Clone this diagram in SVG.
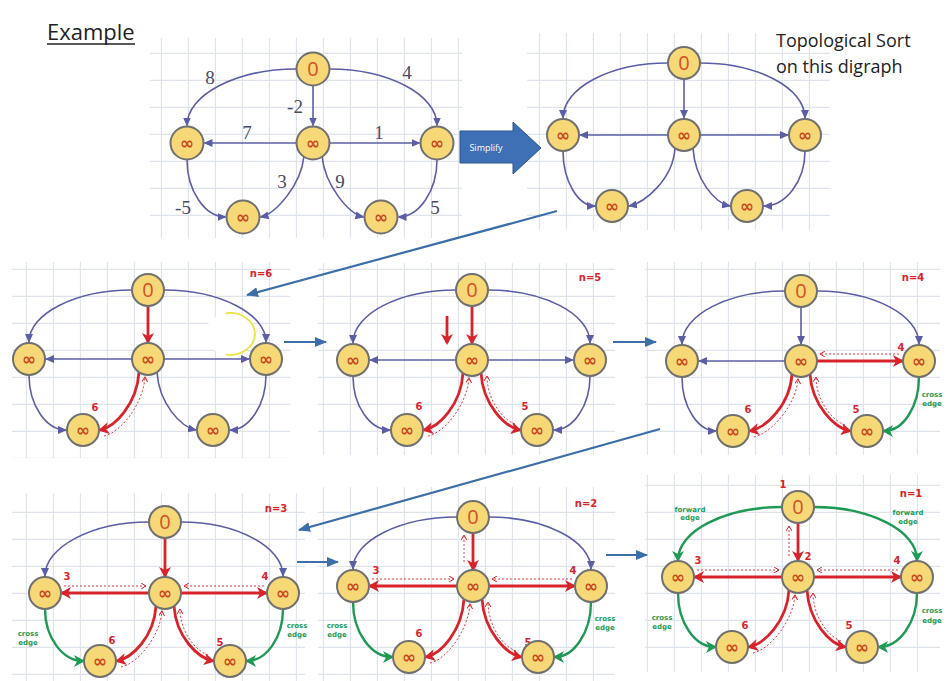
<svg xmlns="http://www.w3.org/2000/svg" width="948" height="681" viewBox="0 0 948 681">
<style>
.nd circle{fill:#f6d876;stroke:#707070;stroke-width:2}
.z{font-family:"Open Sans","Liberation Sans",sans-serif;font-size:20px;fill:#d4502a;text-anchor:middle}
.inf{font-family:"DejaVu Sans",sans-serif;font-size:17px;font-weight:bold;fill:#c8461c;text-anchor:middle}
.ep{fill:none;stroke:#5b5ea6;stroke-width:1.6;marker-end:url(#mP)}
.er{fill:none;stroke:#d8232a;stroke-width:2.8;marker-end:url(#mR)}
.ed{fill:none;stroke:#d8232a;stroke-width:0.9;stroke-dasharray:2 2;marker-end:url(#mRs)}
.eg{fill:none;stroke:#1f9a55;stroke-width:2.4;marker-end:url(#mG)}
.bl{fill:none;stroke:#3c6eaa;stroke-width:2.2;marker-end:url(#mB)}
.hw{font-family:"DejaVu Sans",sans-serif;font-weight:bold;fill:#d8232a;font-size:10px;text-anchor:middle}
.gw{font-family:"DejaVu Sans",sans-serif;font-weight:bold;fill:#1f9a55;font-size:7px;text-anchor:middle}
.wt{font-family:"Liberation Serif",serif;font-size:19px;fill:#4a4a66;text-anchor:middle}
.grid{fill:url(#grid)}
</style>
<defs>
<pattern id="grid" width="27" height="27" patternUnits="userSpaceOnUse">
<path d="M26.5 0 L26.5 27 M0 26.5 L27 26.5" stroke="#dfe3ec" stroke-width="1.3" fill="none"/>
</pattern>
<marker id="mP" markerUnits="userSpaceOnUse" markerWidth="9" markerHeight="8" refX="8" refY="4" orient="auto"><path d="M0,0 L9,4 L0,8 z" fill="#5b5ea6"/></marker>
<marker id="mR" markerUnits="userSpaceOnUse" markerWidth="12" markerHeight="12" refX="9" refY="6" orient="auto"><path d="M0,0 L11,6 L0,12 L3,6 z" fill="#d8232a"/></marker>
<marker id="mRs" markerUnits="userSpaceOnUse" markerWidth="6" markerHeight="6" refX="5" refY="3" orient="auto"><path d="M0,0 L5,3 L0,6" fill="none" stroke="#d8232a" stroke-width="1"/></marker>
<marker id="mG" markerUnits="userSpaceOnUse" markerWidth="12" markerHeight="12" refX="9" refY="6" orient="auto"><path d="M0,0 L11,6 L0,12 L3,6 z" fill="#1f9a55"/></marker>
<marker id="mB" markerUnits="userSpaceOnUse" markerWidth="12" markerHeight="10" refX="11" refY="5" orient="auto"><path d="M0,0 L12,5 L0,10 z" fill="#3c6eaa"/></marker>
</defs>
<rect width="948" height="681" fill="#ffffff"/>

<!-- grids -->
<rect class="grid" x="150" y="38" width="312" height="200"/>
<rect class="grid" x="527" y="33" width="303" height="197"/>
<rect class="grid" x="12" y="262" width="278" height="196"/>
<rect class="grid" x="318" y="263" width="297" height="192"/>
<rect class="grid" x="645" y="262" width="295" height="193"/>
<rect class="grid" x="12" y="493" width="293" height="188"/>
<rect class="grid" x="318" y="487" width="297" height="194"/>
<rect class="grid" x="645" y="475" width="295" height="197"/>

<!-- titles -->
<text x="47" y="40" font-family="'Open Sans','Liberation Sans',sans-serif" font-size="22" fill="#222">Example</text>
<line x1="47" y1="44" x2="135" y2="44" stroke="#222" stroke-width="1.3"/>
<text font-family="'Open Sans','Liberation Sans',sans-serif" font-size="18" fill="#222"><tspan x="776" y="47">Topological Sort</tspan><tspan x="776" y="73">on this digraph</tspan></text>

<!-- Simplify arrow -->
<g id="simplify">
<polygon points="460,131 513,131 513,122 541,148 513,174 513,163 460,163" fill="#3d70b4" stroke="#2c5590" stroke-width="1"/>
<text x="486" y="151" font-family="'Open Sans','Liberation Sans',sans-serif" font-size="9" fill="#ffffff" text-anchor="middle">Simplify</text>
</g>

<!-- yellow highlight in panel 1 -->
<ellipse cx="230" cy="334" rx="25" ry="21" fill="#ffffff"/>
<path d="M225.7,313.3 A25,21 0 1 1 225.7,354.7" fill="none" stroke="#ece24a" stroke-width="1.8"/>

<!-- connectors -->
<g id="connectors">
<!-- Graph A -->
<g id="a-edges">
<path class="ep" d="M296.5,69 C236,69 187,95 187,125.5"/>
<path class="ep" d="M329.5,69 C389,69 437,95 437,125.5"/>
<path class="ep" d="M313,85.5 L313,125.5"/>
<path class="ep" d="M296.5,143 L204.5,143"/>
<path class="ep" d="M329.5,143 L419.5,143"/>
<path class="ep" d="M187,159.5 C187,191 205,217 225.5,217"/>
<path class="ep" d="M437,159.5 C437,191 419,217 398.5,217"/>
<path class="ep" d="M304,156 C301,186 275,214 260.5,217"/>
<path class="ep" d="M322,156 C325,186 349,214 363.5,217"/>
<text class="wt" x="210" y="84">8</text>
<text class="wt" x="407" y="79">4</text>
<text class="wt" x="295" y="113">-2</text>
<text class="wt" x="247" y="139">7</text>
<text class="wt" x="379" y="139">1</text>
<text class="wt" x="282" y="188">3</text>
<text class="wt" x="340" y="188">9</text>
<text class="wt" x="183" y="214">-5</text>
<text class="wt" x="435" y="214">5</text>
</g>
<!-- Graph B -->
<g id="b-edges">
<path class="ep" d="M668,63 C610,63 563,88 563,118"/>
<path class="ep" d="M700,63 C758,63 805,88 805,118"/>
<path class="ep" d="M684,79 L684,118"/>
<path class="ep" d="M668,135 L580,135"/>
<path class="ep" d="M700,135 L788,135"/>
<path class="ep" d="M563,151 C563,181 578,206 595,206"/>
<path class="ep" d="M805,151 C805,181 786,206 764,206"/>
<path class="ep" d="M675,148 C673,180 644,203 629,206"/>
<path class="ep" d="M693,148 C695,180 715,203 730,206"/>
</g>
<!-- Panel 1 -->
<g id="p1-edges">
<path class="ep" d="M132,290 C75,290 29,314 29,342"/>
<path class="ep" d="M164,290 C220,290 266,314 266,342"/>
<path class="er" d="M148,306 L148,342"/>
<path class="ep" d="M132,359 L46,359"/>
<path class="ep" d="M164,359 L249,359"/>
<path class="ep" d="M29,375 C29,405 46,430 66,430"/>
<path class="ep" d="M266,375 C266,405 249,430 230,430"/>
<path class="er" d="M139,372 C137,404 115,427 100,430"/>
<path class="ed" d="M104,436 C120,433 143,405 145,377"/>
<path class="ep" d="M157,372 C159,404 181,427 196,430"/>
<text class="hw" x="261" y="277" font-size="11">n=6</text>
<text class="hw" x="95" y="411" font-size="11">6</text>
</g>
<!-- Panel 2 -->
<g id="p2-edges">
<path class="ep" d="M456,290 C399,290 353,314 353,343"/>
<path class="ep" d="M488,290 C544,290 590,314 590,343"/>
<path class="er" d="M472,306 L472,343"/>
<path class="er" d="M447,316 L447,343" stroke-width="2"/>
<path class="ep" d="M456,360 L370,360"/>
<path class="ep" d="M488,360 L573,360"/>
<path class="ep" d="M353,376 C353,406 370,430 390,430"/>
<path class="ep" d="M590,376 C590,406 573,430 554,430"/>
<path class="er" d="M463,373 C461,405 439,427 424,430"/>
<path class="ed" d="M428,436 C444,433 467,405 469,378"/>
<path class="er" d="M481,373 C483,405 505,427 520,430"/>
<path class="ed" d="M515,424 C503,420 487,400 487,376"/>
<text class="hw" x="590" y="281">n=5</text>
<text class="hw" x="419" y="410">6</text>
<text class="hw" x="525" y="410" font-size="9">5</text>
</g>
<!-- Panel 3 -->
<g id="p3-edges">
<path class="ep" d="M785,291 C728,291 682,315 682,344"/>
<path class="ep" d="M817,291 C873,291 919,315 919,344"/>
<path class="ep" d="M801,307 L801,344"/>
<path class="ep" d="M785,361 L699,361"/>
<path class="er" d="M817,361 L902,361"/>
<path class="ed" d="M899,354 L820,354"/>
<path class="ep" d="M682,377 C682,407 698,431 716,431"/>
<path class="eg" d="M919,377 C919,407 903,431 884,431"/>
<path class="er" d="M792,374 C790,406 765,428 750,431"/>
<path class="ed" d="M754,437 C770,434 796,406 798,379"/>
<path class="er" d="M810,374 C812,406 835,428 850,431"/>
<path class="ed" d="M845,425 C833,421 816,401 816,377"/>
<text class="hw" x="913" y="281">n=4</text>
<text class="hw" x="901" y="351" font-size="9">4</text>
<text class="hw" x="748" y="413">6</text>
<text class="hw" x="856" y="413" font-size="9">5</text>
<text class="gw" x="932" y="397">cross</text>
<text class="gw" x="932" y="406">edge</text>
</g>
<!-- Panel 4 -->
<g id="p4-edges">
<path class="ep" d="M149,522 C92,522 45,547 45,576"/>
<path class="ep" d="M181,522 C237,522 283,547 283,576"/>
<path class="er" d="M165,538 L165,576"/>
<path class="er" d="M149,593 L62,593"/>
<path class="ed" d="M64,586 L146,586"/>
<path class="er" d="M181,593 L266,593"/>
<path class="ed" d="M264,586 L184,586"/>
<path class="eg" d="M45,609 C45,638 63,661 83,661"/>
<path class="eg" d="M283,609 C283,638 266,661 247,661"/>
<path class="er" d="M156,606 C154,637 132,658 117,661"/>
<path class="ed" d="M121,667 C137,664 160,637 162,611"/>
<path class="er" d="M174,606 C176,637 198,658 213,661"/>
<path class="ed" d="M208,655 C196,651 180,632 180,609"/>
<text class="hw" x="276" y="512">n=3</text>
<text class="hw" x="67" y="580" font-size="9">3</text>
<text class="hw" x="265" y="580" font-size="9">4</text>
<text class="hw" x="112" y="644">6</text>
<text class="hw" x="220" y="646" font-size="9">5</text>
<text class="gw" x="28" y="636">cross</text>
<text class="gw" x="28" y="645">edge</text>
<text class="gw" x="297" y="628">cross</text>
<text class="gw" x="297" y="637">edge</text>
</g>
<!-- Panel 5 -->
<g id="p5-edges">
<path class="ep" d="M457,517 C400,517 353,541 353,569"/>
<path class="ep" d="M489,517 C545,517 591,541 591,569"/>
<path class="er" d="M473,533 L473,569"/>
<path class="ed" d="M464,562 L464,535"/>
<path class="er" d="M457,586 L370,586"/>
<path class="ed" d="M372,579 L454,579"/>
<path class="er" d="M489,586 L574,586"/>
<path class="ed" d="M572,579 L492,579"/>
<path class="eg" d="M353,602 C353,632 371,657 392,657"/>
<path class="eg" d="M591,602 C591,632 574,657 555,657"/>
<path class="er" d="M464,599 C462,631 441,654 426,657"/>
<path class="ed" d="M430,663 C446,660 468,631 470,604"/>
<path class="er" d="M482,599 C484,631 506,654 521,657"/>
<path class="ed" d="M516,651 C504,647 488,627 488,602"/>
<text class="hw" x="586" y="507" font-size="9">n=2</text>
<text class="hw" x="474" y="571" font-size="9">2</text>
<text class="hw" x="376" y="574" font-size="9">3</text>
<text class="hw" x="573" y="574" font-size="9">4</text>
<text class="hw" x="419" y="637">6</text>
<text class="hw" x="528" y="646" font-size="9">5</text>
<text class="gw" x="337" y="628">cross</text>
<text class="gw" x="337" y="637">edge</text>
<text class="gw" x="605" y="621">cross</text>
<text class="gw" x="605" y="630">edge</text>
</g>
<!-- Panel 6 -->
<g id="p6-edges">
<path class="eg" d="M782,507 C725,507 678,531 678,560"/>
<path class="eg" d="M814,507 C871,507 917,531 917,560"/>
<path class="er" d="M798,523 L798,560"/>
<path class="ed" d="M789,556 L789,526"/>
<path class="er" d="M782,577 L695,577"/>
<path class="ed" d="M697,570 L779,570"/>
<path class="er" d="M814,577 L900,577"/>
<path class="ed" d="M898,570 L817,570"/>
<path class="eg" d="M678,593 C678,623 695,647 715,647"/>
<path class="eg" d="M917,593 C917,623 899,647 879,647"/>
<path class="er" d="M789,590 C787,622 764,644 749,647"/>
<path class="ed" d="M753,653 C769,650 793,622 795,595"/>
<path class="er" d="M807,590 C809,622 830,644 845,647"/>
<path class="ed" d="M841,641 C829,637 813,617 813,593"/>
<text class="hw" x="911" y="497" font-size="9">n=1</text>
<text class="hw" x="783" y="488" font-size="9">1</text>
<text class="hw" x="808" y="560" font-size="9">2</text>
<text class="hw" x="698" y="564" font-size="9">3</text>
<text class="hw" x="897" y="564" font-size="9">4</text>
<text class="hw" x="745" y="629">6</text>
<text class="hw" x="849" y="629" font-size="9">5</text>
<text class="gw" x="690" y="512">forward</text>
<text class="gw" x="690" y="520">edge</text>
<text class="gw" x="908" y="515">forward</text>
<text class="gw" x="908" y="524">edge</text>
<text class="gw" x="662" y="620">cross</text>
<text class="gw" x="662" y="629">edge</text>
<text class="gw" x="932" y="613">cross</text>
<text class="gw" x="932" y="623">edge</text>
</g>
<!-- blue flow arrows -->
<g id="flow">
<path class="bl" d="M557,211 L247,295"/>
<path class="bl" d="M284,342 L326,342"/>
<path class="bl" d="M613,342 L656,342"/>
<path class="bl" d="M660,429 L299,530"/>
<path class="bl" d="M297,562 L338,562"/>
<path class="bl" d="M606,555 L647,555"/>
</g>
</g>

<!-- nodes: Graph A -->
<g id="a-t" class="nd"><circle cx="313" cy="69" r="16.5"/><text class="z" x="313" y="76">0</text></g>
<g id="a-l" class="nd"><circle cx="187" cy="143" r="16.5"/><text class="inf" x="187" y="149">∞</text></g>
<g id="a-c" class="nd"><circle cx="313" cy="143" r="16.5"/><text class="inf" x="313" y="149">∞</text></g>
<g id="a-r" class="nd"><circle cx="437" cy="143" r="16.5"/><text class="inf" x="437" y="149">∞</text></g>
<g id="a-bl" class="nd"><circle cx="243" cy="217" r="16.5"/><text class="inf" x="243" y="223">∞</text></g>
<g id="a-br" class="nd"><circle cx="381" cy="217" r="16.5"/><text class="inf" x="381" y="223">∞</text></g>
<!-- Graph B -->
<g id="b-t" class="nd"><circle cx="684" cy="63" r="16"/><text class="z" x="684" y="70">0</text></g>
<g id="b-l" class="nd"><circle cx="563" cy="135" r="16"/><text class="inf" x="563" y="141">∞</text></g>
<g id="b-c" class="nd"><circle cx="684" cy="135" r="16"/><text class="inf" x="684" y="141">∞</text></g>
<g id="b-r" class="nd"><circle cx="805" cy="135" r="16"/><text class="inf" x="805" y="141">∞</text></g>
<g id="b-bl" class="nd"><circle cx="612" cy="206" r="16"/><text class="inf" x="612" y="212">∞</text></g>
<g id="b-br" class="nd"><circle cx="747" cy="206" r="16"/><text class="inf" x="747" y="212">∞</text></g>
<!-- Panel 1 -->
<g id="p1-t" class="nd"><circle cx="148" cy="290" r="16"/><text class="z" x="148" y="297">0</text></g>
<g id="p1-l" class="nd"><circle cx="29" cy="359" r="16"/><text class="inf" x="29" y="365">∞</text></g>
<g id="p1-c" class="nd"><circle cx="148" cy="359" r="16"/><text class="inf" x="148" y="365">∞</text></g>
<g id="p1-r" class="nd"><circle cx="266" cy="359" r="16"/><text class="inf" x="266" y="365">∞</text></g>
<g id="p1-bl" class="nd"><circle cx="83" cy="430" r="16"/><text class="inf" x="83" y="436">∞</text></g>
<g id="p1-br" class="nd"><circle cx="213" cy="430" r="16"/><text class="inf" x="213" y="436">∞</text></g>
<!-- Panel 2 -->
<g id="p2-t" class="nd"><circle cx="472" cy="290" r="16"/><text class="z" x="472" y="297">0</text></g>
<g id="p2-l" class="nd"><circle cx="353" cy="360" r="16"/><text class="inf" x="353" y="366">∞</text></g>
<g id="p2-c" class="nd"><circle cx="472" cy="360" r="16"/><text class="inf" x="472" y="366">∞</text></g>
<g id="p2-r" class="nd"><circle cx="590" cy="360" r="16"/><text class="inf" x="590" y="366">∞</text></g>
<g id="p2-bl" class="nd"><circle cx="407" cy="430" r="16"/><text class="inf" x="407" y="436">∞</text></g>
<g id="p2-br" class="nd"><circle cx="537" cy="430" r="16"/><text class="inf" x="537" y="436">∞</text></g>
<!-- Panel 3 -->
<g id="p3-t" class="nd"><circle cx="801" cy="291" r="16"/><text class="z" x="801" y="298">0</text></g>
<g id="p3-l" class="nd"><circle cx="682" cy="361" r="16"/><text class="inf" x="682" y="367">∞</text></g>
<g id="p3-c" class="nd"><circle cx="801" cy="361" r="16"/><text class="inf" x="801" y="367">∞</text></g>
<g id="p3-r" class="nd"><circle cx="919" cy="361" r="16"/><text class="inf" x="919" y="367">∞</text></g>
<g id="p3-bl" class="nd"><circle cx="733" cy="431" r="16"/><text class="inf" x="733" y="437">∞</text></g>
<g id="p3-br" class="nd"><circle cx="867" cy="431" r="16"/><text class="inf" x="867" y="437">∞</text></g>
<!-- Panel 4 -->
<g id="p4-t" class="nd"><circle cx="165" cy="522" r="16"/><text class="z" x="165" y="529">0</text></g>
<g id="p4-l" class="nd"><circle cx="45" cy="593" r="16"/><text class="inf" x="45" y="599">∞</text></g>
<g id="p4-c" class="nd"><circle cx="165" cy="593" r="16"/><text class="inf" x="165" y="599">∞</text></g>
<g id="p4-r" class="nd"><circle cx="283" cy="593" r="16"/><text class="inf" x="283" y="599">∞</text></g>
<g id="p4-bl" class="nd"><circle cx="100" cy="661" r="16"/><text class="inf" x="100" y="667">∞</text></g>
<g id="p4-br" class="nd"><circle cx="230" cy="661" r="16"/><text class="inf" x="230" y="667">∞</text></g>
<!-- Panel 5 -->
<g id="p5-t" class="nd"><circle cx="473" cy="517" r="16"/><text class="z" x="473" y="524">0</text></g>
<g id="p5-l" class="nd"><circle cx="353" cy="586" r="16"/><text class="inf" x="353" y="592">∞</text></g>
<g id="p5-c" class="nd"><circle cx="473" cy="586" r="16"/><text class="inf" x="473" y="592">∞</text></g>
<g id="p5-r" class="nd"><circle cx="591" cy="586" r="16"/><text class="inf" x="591" y="592">∞</text></g>
<g id="p5-bl" class="nd"><circle cx="409" cy="657" r="16"/><text class="inf" x="409" y="663">∞</text></g>
<g id="p5-br" class="nd"><circle cx="538" cy="657" r="16"/><text class="inf" x="538" y="663">∞</text></g>
<!-- Panel 6 -->
<g id="p6-t" class="nd"><circle cx="798" cy="507" r="16"/><text class="z" x="798" y="514">0</text></g>
<g id="p6-l" class="nd"><circle cx="678" cy="577" r="16"/><text class="inf" x="678" y="583">∞</text></g>
<g id="p6-c" class="nd"><circle cx="798" cy="577" r="16"/><text class="inf" x="798" y="583">∞</text></g>
<g id="p6-r" class="nd"><circle cx="917" cy="577" r="16"/><text class="inf" x="917" y="583">∞</text></g>
<g id="p6-bl" class="nd"><circle cx="732" cy="647" r="16"/><text class="inf" x="732" y="653">∞</text></g>
<g id="p6-br" class="nd"><circle cx="862" cy="647" r="16"/><text class="inf" x="862" y="653">∞</text></g>
</svg>
